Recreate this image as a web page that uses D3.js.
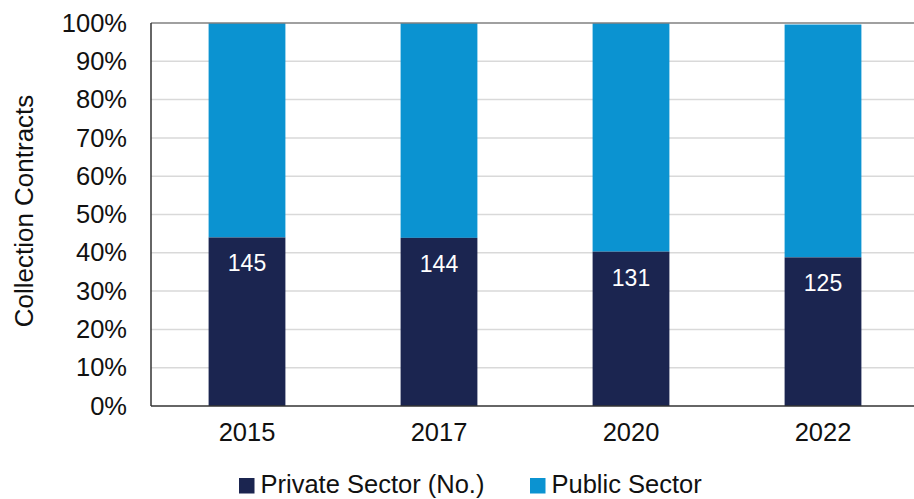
<!DOCTYPE html>
<html><head><meta charset="utf-8">
<script src="https://cdn.jsdelivr.net/npm/d3@7"></script>
<style>body{margin:0;background:#fff}svg{display:block}text{font-family:"Liberation Sans",Arial,sans-serif}</style>
</head><body><svg id="c" width="914" height="499"></svg>
<script>
const years = ["2015","2017","2020","2022"];
const privatePct = [44.0, 43.9, 40.3, 38.8];
const publicPct = [56.0, 56.1, 59.7, 60.8];
const privateCount = [145, 144, 131, 125];
const yTicks = [0,10,20,30,40,50,60,70,80,90,100];
const seriesNames = ["Private Sector (No.)","Public Sector"];
const colors = ["#1b2550","#0b93d1"];

const svg = d3.select("#c");
const m = {left:151, right:919, top:23, bottom:406};
const x = d3.scaleBand().domain(years).range([m.left,m.right]).paddingInner(0.6).paddingOuter(0.3);
const y = d3.scaleLinear().domain([0,100]).range([m.bottom,m.top]);

// gridlines
svg.append("g").selectAll("line").data(yTicks.filter(t=>t>0&&t<100)).join("line")
  .attr("x1",m.left).attr("x2",914).attr("y1",d=>y(d)).attr("y2",d=>y(d))
  .attr("stroke","#d9d9d9").attr("stroke-width",1.5);

const data = years.map((yr,i)=>({yr, p:privatePct[i], q:publicPct[i], n:privateCount[i]}));
const g = svg.append("g");
g.selectAll(".pub").data(data).join("rect")
  .attr("x",d=>x(d.yr)).attr("width",x.bandwidth())
  .attr("y",d=>y(d.p+d.q)).attr("height",d=>y(d.p)-y(d.p+d.q)).attr("fill",colors[1]);
g.selectAll(".pri").data(data).join("rect")
  .attr("x",d=>x(d.yr)).attr("width",x.bandwidth())
  .attr("y",d=>y(d.p)).attr("height",d=>y(0)-y(d.p)).attr("fill",colors[0]);
g.selectAll(".lbl").data(data).join("text")
  .attr("x",d=>x(d.yr)+x.bandwidth()/2).attr("y",d=>y(d.p)+34)
  .attr("text-anchor","middle").attr("fill","#fff").attr("font-size",23).text(d=>d.n);

// frame
svg.append("line").attr("x1",m.left).attr("x2",914).attr("y1",m.top).attr("y2",m.top).attr("stroke","#808080").attr("stroke-width",1.5);
svg.append("line").attr("x1",m.left).attr("x2",914).attr("y1",m.bottom).attr("y2",m.bottom).attr("stroke","#333").attr("stroke-width",1.5);
svg.append("line").attr("x1",m.left).attr("x2",m.left).attr("y1",m.top).attr("y2",m.bottom).attr("stroke","#333").attr("stroke-width",1.5);

// y axis
const ya = svg.append("g").attr("transform",`translate(${m.left},0)`)
  .call(d3.axisLeft(y).tickValues(yTicks).tickFormat(d=>d+"%").tickSize(0).tickPadding(24));
ya.select(".domain").remove();
ya.selectAll("text").attr("font-size",25.5).attr("fill","#111").attr("font-family","Liberation Sans, Arial, sans-serif");

// x axis
const xa = svg.append("g").attr("transform",`translate(0,${m.bottom})`)
  .call(d3.axisBottom(x).tickSize(0).tickPadding(17));
xa.select(".domain").remove();
xa.selectAll("text").attr("font-size",25.5).attr("fill","#111").attr("font-family","Liberation Sans, Arial, sans-serif");

// y title
svg.append("text").attr("transform","translate(33,211) rotate(-90)").attr("text-anchor","middle")
  .attr("font-size",26).attr("fill","#111").text("Collection Contracts");

// legend
const legX = [239, 530];
seriesNames.forEach((s,i)=>{
  svg.append("rect").attr("x",legX[i]).attr("y",478).attr("width",15.5).attr("height",15.5).attr("fill",colors[i]);
  svg.append("text").attr("x",legX[i]+21.5).attr("y",492.5).attr("font-size",25.5).attr("fill","#111").text(s);
});
</script></body></html>
